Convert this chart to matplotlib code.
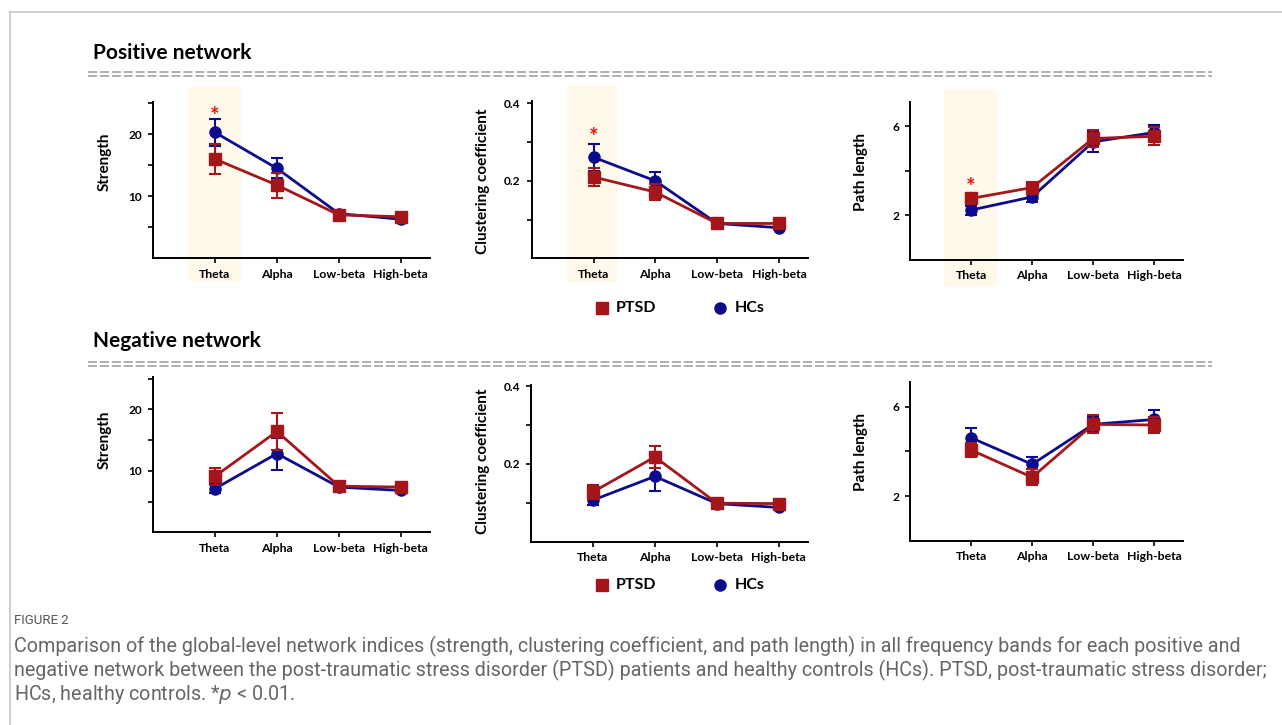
import matplotlib
matplotlib.use("Agg")
import matplotlib.pyplot as plt
from matplotlib.patches import FancyBboxPatch
from matplotlib.lines import Line2D
import numpy as np

plt.rcParams['font.family'] = ['Lato', 'DejaVu Sans']

# ---------------- data ----------------
bands = ["Theta", "Alpha", "Low-beta", "High-beta"]

pos_strength_ptsd = [16.0, 11.8, 7.0, 6.7]
pos_strength_ptsd_err = [2.4, 2.0, 0.6, 0.5]
pos_strength_hc = [20.3, 14.5, 7.2, 6.3]
pos_strength_hc_err = [2.15, 1.6, 0.4, 0.3]

pos_clust_ptsd = [0.210, 0.171, 0.090, 0.090]
pos_clust_ptsd_err = [0.024, 0.020, 0.006, 0.006]
pos_clust_hc = [0.261, 0.200, 0.090, 0.079]
pos_clust_hc_err = [0.035, 0.022, 0.005, 0.004]

pos_path_ptsd = [2.76, 3.25, 5.45, 5.55]
pos_path_ptsd_err = [0.18, 0.25, 0.40, 0.40]
pos_path_hc = [2.24, 2.83, 5.30, 5.72]
pos_path_hc_err = [0.20, 0.25, 0.45, 0.35]

neg_strength_ptsd = [9.1, 16.4, 7.5, 7.35]
neg_strength_ptsd_err = [1.35, 2.95, 0.7, 0.5]
neg_strength_hc = [7.1, 12.8, 7.35, 6.8]
neg_strength_hc_err = [0.7, 2.6, 0.5, 0.3]

neg_clust_ptsd = [0.128, 0.218, 0.099, 0.098]
neg_clust_ptsd_err = [0.017, 0.029, 0.008, 0.006]
neg_clust_hc = [0.107, 0.168, 0.098, 0.088]
neg_clust_hc_err = [0.013, 0.037, 0.010, 0.004]

neg_path_ptsd = [4.06, 2.84, 5.21, 5.18]
neg_path_ptsd_err = [0.33, 0.35, 0.40, 0.35]
neg_path_hc = [4.61, 3.42, 5.21, 5.43]
neg_path_hc_err = [0.45, 0.34, 0.35, 0.42]

star_pos = [22.9, 0.311, 3.23]  # positions of significance stars (Theta, positive row)

ylabels = ["Strength", "Clustering coefficient", "Path length"]
legend_labels = ["PTSD", "HCs"]

caption_head = "FIGURE 2"
caption_lines = [
    "Comparison of the global-level network indices (strength, clustering coefficient, and path length) in all frequency bands for each positive and",
    "negative network between the post-traumatic stress disorder (PTSD) patients and healthy controls (HCs). PTSD, post-traumatic stress disorder;",
    r"HCs, healthy controls. *$p$ < 0.01.",
]

# ---------------- style ----------------
RED = "#A5161A"
NAVY = "#0B0B8C"
CREAM = "#FFF9EB"
W, H = 1282, 725

fig = plt.figure(figsize=(W / 100, H / 100), dpi=100)

def fx(x):
    return x / W

def fy(y):
    return 1 - y / H

def add_ax(l, t, r, b):
    ax = fig.add_axes([fx(l), fy(b), (r - l) / W, (b - t) / H])
    ax.patch.set_alpha(0)
    return ax

# frame of the page
fig.add_artist(Line2D([fx(10), fx(10)], [fy(12), fy(725)], color="#c6c6c6", lw=1.2))
fig.add_artist(Line2D([fx(10), fx(1282)], [fy(12), fy(12)], color="#c6c6c6", lw=1.2))

# section titles + dashed double rules
for title, ty, dy in [("Positive network", 53, 72), ("Negative network", 341, 362)]:
    fig.text(fx(93), fy(ty), title, fontsize=15, fontweight="bold", ha="left", va="center")
    for yy in (dy, dy + 4):
        fig.add_artist(Line2D([fx(88), fx(1212)], [fy(yy), fy(yy)], color="#a9a9a9",
                              lw=1.3, linestyle=(0, (5, 1.6))))

highlights = [(188, 86, 241, 282), (566, 85, 618, 283), (944, 89, 997, 287)]

panels = [
    # (rect, ylim, major, minor, fmt, ptsd, ptsd_err, hc, hc_err, ylabel pos, label idx)
    ((153, 102, 430, 258.3), (0, 25.2), [10, 20], [5, 15, 25], "{:.0f}",
     pos_strength_ptsd, pos_strength_ptsd_err, pos_strength_hc, pos_strength_hc_err, (105, 162), 0),
    ((531.7, 100.7, 808, 258.3), (0, 0.407), [0.2, 0.4], [0.1, 0.3], "{:.1f}",
     pos_clust_ptsd, pos_clust_ptsd_err, pos_clust_hc, pos_clust_hc_err, (482.5, 181), 1),
    ((910, 101.7, 1183, 260), (0, 7.1), [2, 6], [4], "{:.0f}",
     pos_path_ptsd, pos_path_ptsd_err, pos_path_hc, pos_path_hc_err, (861, 172), 2),
    ((153, 376.7, 430, 532.3), (0, 25.3), [10, 20], [5, 15, 25], "{:.0f}",
     neg_strength_ptsd, neg_strength_ptsd_err, neg_strength_hc, neg_strength_hc_err, (105, 440), 0),
    ((531, 385, 808, 541.7), (0, 0.403), [0.2, 0.4], [0.1, 0.3], "{:.1f}",
     neg_clust_ptsd, neg_clust_ptsd_err, neg_clust_hc, neg_clust_hc_err, (482.5, 461), 1),
    ((910, 381.7, 1183, 540.7), (0, 7.12), [2, 6], [4], "{:.0f}",
     neg_path_ptsd, neg_path_ptsd_err, neg_path_hc, neg_path_hc_err, (861, 452), 2),
]

x = np.arange(1, len(bands) + 1)
for i, (rect, ylim, major, minor, fmt, pv, pe, hv, he, lab, li) in enumerate(panels):
    ax = add_ax(*rect)
    if i < 3:
        l, t, r, b = highlights[i]
        p = FancyBboxPatch((fx(l), fy(b)), (r - l) / W, (b - t) / H,
                           boxstyle="round,pad=0,rounding_size=0.004",
                           transform=fig.transFigure, facecolor=CREAM, edgecolor="none",
                           zorder=0, clip_on=False)
        ax.add_patch(p)
    ax.errorbar(x, hv, yerr=he, color=NAVY, lw=2.0, marker="o", ms=8,
                capsize=4, capthick=1.5, elinewidth=1.5, zorder=3)
    ax.errorbar(x, pv, yerr=pe, color=RED, lw=2.0, marker="s", ms=8,
                capsize=4, capthick=1.5, elinewidth=1.5, zorder=4)
    ax.set_xlim(0, 4.47)
    ax.set_ylim(*ylim)
    ax.set_xticks(x)
    ax.set_xticklabels(bands, fontsize=8.8, fontweight="bold")
    ax.set_yticks(major)
    ax.set_yticklabels([fmt.format(v) for v in major], fontsize=8.6, fontweight="bold")
    ax.set_yticks(minor, minor=True)
    for s in ("top", "right"):
        ax.spines[s].set_visible(False)
    for s in ("left", "bottom"):
        ax.spines[s].set_linewidth(1.4)
        ax.spines[s].set_zorder(2)
    ax.tick_params(axis="both", which="both", direction="out", length=3.5, width=1.2)
    ax.tick_params(axis="x", pad=4)
    ax.tick_params(axis="y", pad=4.5)
    fig.text(fx(lab[0]), fy(lab[1]), ylabels[li], rotation=90, fontsize=11,
             fontweight="bold", ha="center", va="center")
    if i < 3:
        ax.text(1, star_pos[i], "*", color="#f01010", fontsize=16, fontweight="bold",
                ha="center", va="center", zorder=5)

# legends
for ly in (308, 585):
    fig.add_artist(Line2D([fx(602)], [fy(ly)], marker="s", color=RED, ms=8, linestyle="none"))
    fig.text(fx(616), fy(ly), legend_labels[0], fontsize=11.5, fontweight="bold", ha="left", va="center")
    fig.add_artist(Line2D([fx(720)], [fy(ly)], marker="o", color=NAVY, ms=8, linestyle="none"))
    fig.text(fx(735), fy(ly), legend_labels[1], fontsize=11.5, fontweight="bold", ha="left", va="center")

# caption
cap_family = ["Roboto", "DejaVu Sans"]
fig.text(fx(14), fy(620), caption_head, fontsize=9.5, color="#555555", family=cap_family,
         ha="left", va="center")
renderer = fig.canvas.get_renderer()
cap_texts = []
for k, line in enumerate(caption_lines):
    cap_texts.append(fig.text(fx(14), fy(646 + 24 * k), line, fontsize=12, color="#666666",
                              family=cap_family, ha="left", va="center"))
wmax = max(t.get_window_extent(renderer).width for t in cap_texts)
fs = 12 * 1246 / wmax
for t in cap_texts:
    t.set_fontsize(fs)

fig.savefig("out.png", dpi=100)
